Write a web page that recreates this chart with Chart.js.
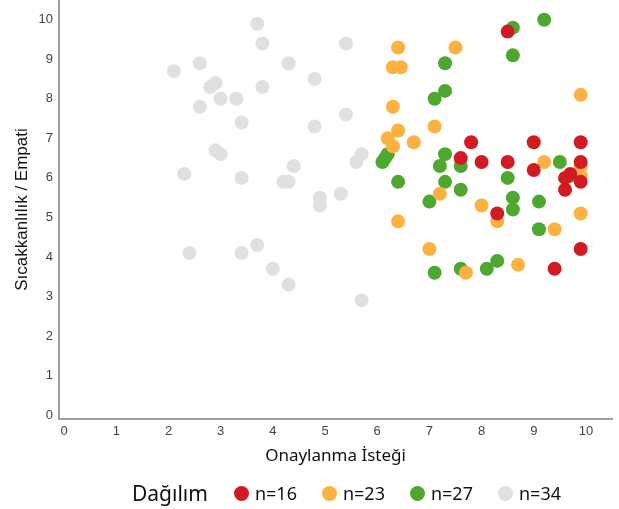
<!DOCTYPE html>
<html>
<head>
<meta charset="utf-8">
<script src="https://cdn.jsdelivr.net/npm/chart.js@4"></script>
<style>
  body { margin: 0; background: #fff; }
  #wrap { position: relative; width: 619px; height: 509px; }
  #legend {
    position: absolute; left: 132px; top: 479px; height: 28px;
    display: flex; align-items: center;
    font-family: "Noto Sans", sans-serif; color: #111;
  }
  #legend .title { font-size: 21px; margin-right: 26px; }
  #legend .item { display: flex; align-items: center; font-size: 18px; margin-right: 25px; }
  #legend .dot { width: 15px; height: 15px; border-radius: 50%; margin-right: 6px; }
</style>
</head>
<body>
<div id="wrap">
  <canvas id="chart" width="619" height="509"></canvas>
  <div id="legend"></div>
</div>
<script>
// series labels and colours
const seriesLabels = ['n=16', 'n=23', 'n=27', 'n=34'];
const seriesColors = ['#d21a22', '#fdb140', '#4ea82f', '#e0e0e0'];

// Onaylanma İsteği (x) / Sıcakkanlılık / Empati (y) per group
const redX = [8.5, 7.8, 9.0, 9.9, 7.6, 8.0, 8.5, 9.9, 9.0, 9.6, 9.7, 9.9, 9.6, 8.3, 9.9, 9.4];
const redY = [9.7, 6.9, 6.9, 6.9, 6.5, 6.4, 6.4, 6.4, 6.2, 6.0, 6.1, 5.9, 5.7, 5.1, 4.2, 3.7];

const orangeX = [6.4, 7.5, 6.3, 6.45, 6.3, 6.4, 7.1, 6.2, 6.7, 6.3, 9.9, 9.2, 9.9, 9.9, 7.2, 8.0, 6.4, 7.0, 7.7, 8.3, 9.9, 9.4, 8.7];
const orangeY = [9.3, 9.3, 8.8, 8.8, 7.8, 7.2, 7.3, 7.0, 6.9, 6.8, 8.1, 6.4, 6.3, 6.05, 5.6, 5.3, 4.9, 4.2, 3.6, 4.9, 5.1, 4.7, 3.8];

const greenX = [8.6, 9.2, 8.6, 7.3, 7.3, 7.1, 6.2, 6.1, 6.15, 6.4, 7.3, 7.2, 7.6, 7.3, 7.6, 7.0, 7.1, 7.6, 8.1, 9.5, 8.5, 8.6, 8.6, 9.1, 9.1, 8.3, 9.7];
const greenY = [9.8, 10.0, 9.1, 8.9, 8.2, 8.0, 6.6, 6.4, 6.5, 5.9, 6.6, 6.3, 6.3, 5.9, 5.7, 5.4, 3.6, 3.7, 3.7, 6.4, 6.0, 5.5, 5.2, 5.4, 4.7, 3.9, 6.05];

const greyX = [2.1, 2.6, 3.7, 3.8, 4.3, 4.8, 2.8, 2.9, 3.8, 2.6, 3.0, 3.3, 3.4, 4.8, 2.9, 3.0, 2.3, 3.4, 4.4, 4.2, 4.3, 4.9, 4.9, 2.4, 3.4, 3.7, 4.0, 4.3, 5.7, 5.4, 5.4, 5.7, 5.6, 5.3];
const greyY = [8.7, 8.9, 9.9, 9.4, 8.9, 8.5, 8.3, 8.4, 8.3, 7.8, 8.0, 8.0, 7.4, 7.3, 6.7, 6.6, 6.1, 6.0, 6.3, 5.9, 5.9, 5.5, 5.3, 4.1, 4.1, 4.3, 3.7, 3.3, 2.9, 9.4, 7.6, 6.6, 6.4, 5.6];

const tickValues = [0, 1, 2, 3, 4, 5, 6, 7, 8, 9, 10];

const toPoints = (xs, ys) => xs.map((x, i) => ({ x: x, y: ys[i] }));
const allSeries = [[redX, redY], [orangeX, orangeY], [greenX, greenY], [greyX, greyY]];

// lower order is drawn on top: red over orange over green over grey
const datasets = allSeries.map((s, i) => ({
  label: seriesLabels[i],
  data: toPoints(s[0], s[1]),
  backgroundColor: seriesColors[i],
  borderWidth: 0,
  pointRadius: 7,
  pointHoverRadius: 7,
  order: i
}));

const tickFont = { family: 'Liberation Sans, Arial, sans-serif', size: 13 };
const fixTicks = axis => { axis.ticks = tickValues.map(v => ({ value: v })); };
const noPad = s => { s.paddingTop = 0; s.paddingBottom = 0; s.paddingLeft = 0; s.paddingRight = 0; };

new Chart(document.getElementById('chart').getContext('2d'), {
  type: 'scatter',
  data: { datasets: datasets },
  options: {
    responsive: false,
    animation: false,
    layout: { autoPadding: false, padding: { left: 0, right: 7, top: 0, bottom: 0 } },
    plugins: { legend: { display: false }, tooltip: { enabled: false } },
    scales: {
      x: {
        min: -0.1, max: 10.5,
        afterBuildTicks: fixTicks,
        afterFit: s => { s.height = 90; noPad(s); },
        grid: { display: false, drawTicks: false },
        border: { display: true, color: '#a0a0a0', width: 2 },
        ticks: { color: '#444', font: tickFont, padding: 5 },
        title: {
          display: true, text: 'Onaylanma İsteği', color: '#111',
          font: { family: 'Noto Sans, sans-serif', size: 17 },
          padding: { top: 0, bottom: 43 }
        }
      },
      y: {
        min: -0.1, max: 10.5,
        afterBuildTicks: fixTicks,
        afterFit: s => { s.width = 59; noPad(s); },
        grid: { display: false, drawTicks: false },
        border: { display: true, color: '#a0a0a0', width: 2 },
        ticks: { color: '#444', font: tickFont, padding: 6 },
        title: {
          display: true, text: 'Sıcakkanlılık / Empati', color: '#111',
          font: { family: 'Liberation Sans, Arial, sans-serif', size: 17 },
          padding: { top: 12, bottom: 0 }
        }
      }
    }
  }
});

// legend with the title inline on the left
const legend = document.getElementById('legend');
legend.innerHTML = '<span class="title">Dağılım</span>' + seriesLabels.map((l, i) =>
  '<span class="item"><span class="dot" style="background:' + seriesColors[i] + '"></span>' + l + '</span>'
).join('');
</script>
</body>
</html>
